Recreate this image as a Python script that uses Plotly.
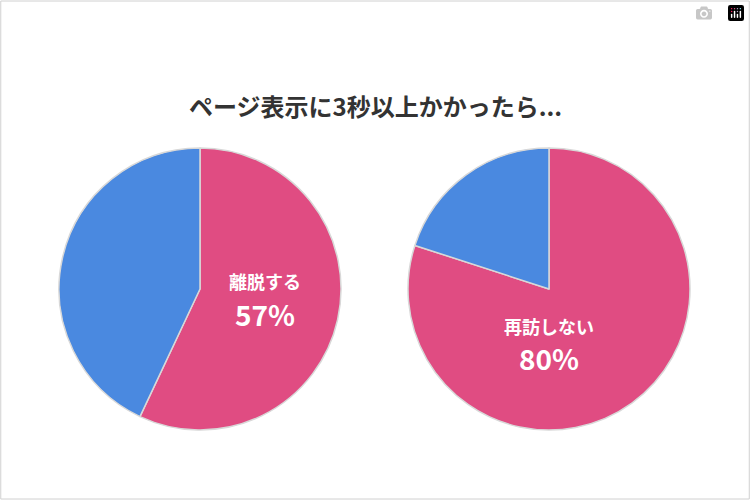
import plotly.graph_objects as go

title_text = "ページ表示に3秒以上かかったら..."
left_labels = ["離脱する", "離脱しない"]
left_values = [57, 43]
right_labels = ["再訪しない", "再訪する"]
right_values = [80, 20]
pie_colors = ["#E04C82", "#4A89E0"]

W, H = 750, 500

def dom(x0, x1, y0, y1):
    return dict(x=[x0 / W, x1 / W], y=[1 - y1 / H, 1 - y0 / H])

fig = go.Figure()
for vals, labs, d in [(left_values, left_labels, dom(59, 341, 148, 430)),
                      (right_values, right_labels, dom(408, 690, 148, 430))]:
    fig.add_trace(go.Pie(values=vals, labels=labs, sort=False, direction="clockwise",
                         rotation=0, textinfo="none", hoverinfo="label+percent",
                         marker=dict(colors=pie_colors, line=dict(color="#d8d8d8", width=1.5)),
                         domain=d, showlegend=False))

font = "Noto Sans CJK JP"
def ann(x, y, text, size):
    fig.add_annotation(x=x / W, y=1 - y / H, xref="paper", yref="paper", text=text,
                       xanchor="center", yanchor="middle", showarrow=False,
                       font=dict(family=font, size=size, color="white"))

ann(265, 281, "<b>" + left_labels[0] + "</b>", 18)
ann(265, 314, "<b>%d%%</b>" % left_values[0], 28)
ann(549, 326, "<b>" + right_labels[0] + "</b>", 18)
ann(549, 358, "<b>%d%%</b>" % right_values[0], 28)

fig.add_annotation(x=0.5, y=1 - 86 / H, xref="paper", yref="paper", text="<b>" + title_text + "</b>",
                   showarrow=False, font=dict(family=font, size=24, color="#333333"))

fig.add_shape(type="rect", xref="paper", yref="paper", x0=0.001, y0=0.002, x1=0.999, y1=0.998,
              line=dict(color="#d0d0d0", width=1))

fig.update_layout(width=W, height=H, margin=dict(l=0, r=0, t=0, b=0),
                  paper_bgcolor="white", plot_bgcolor="white")
fig.write_html("out.html", post_script="document.body.style.margin='0';document.body.style.overflow='hidden';")
